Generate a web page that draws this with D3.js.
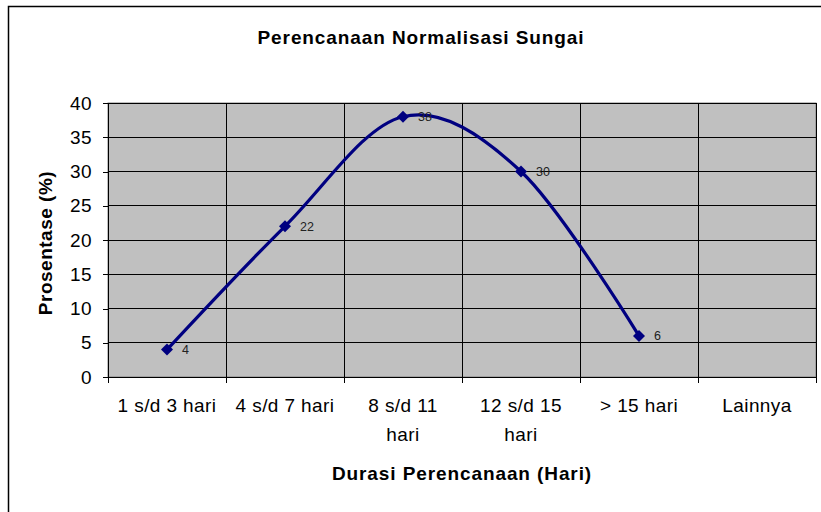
<!DOCTYPE html>
<html lang="en">
<head>
    <meta charset="utf-8">
    <title>Perencanaan Normalisasi Sungai</title>
    <script src="https://d3js.org/d3.v7.min.js"></script>
    <style type="text/css">
        body {
            margin: 0;
            background: white;
        }
        svg text {
            font-family: "Liberation Sans", Arial, sans-serif;
            fill: black;
        }
        .grid line {
            stroke: black;
            stroke-width: 1px;
            shape-rendering: crispEdges;
        }
        .axis path, .axis line {
            stroke: black;
            shape-rendering: crispEdges;
        }
        .axis text {
            font-size: 19px;
            letter-spacing: 0.4px;
        }
        .title {
            font-size: 19px;
            font-weight: bold;
            letter-spacing: 0.9px;
        }
        .line {
            fill: none;
            stroke: #000080;
            stroke-width: 3.2px;
        }
    </style>
</head>
<body>
    <script type="text/javascript">

        const w = 821; // Width
        const h = 512; // Height
        const plotLeft = 108, plotRight = 816, plotTop = 103, plotBottom = 377;

        // Data
        const categories = ["1 s/d 3 hari", "4 s/d 7 hari", "8 s/d 11 hari", "12 s/d 15 hari", "> 15 hari", "Lainnya"];
        const values = [4, 22, 38, 30, 6, null];
        const yTicks = [0, 5, 10, 15, 20, 25, 30, 35, 40];

        const data = categories.map((c, i) => ({ cat: c, value: values[i] }));

        // Scales
        const xScale = d3.scaleBand()
            .domain(categories)
            .range([plotLeft, plotRight]);

        const yScale = d3.scaleLinear()
            .domain([0, 40])
            .range([plotBottom, plotTop]);

        // SVG element
        const svg = d3.select("body")
            .append("svg")
            .attr("width", w)
            .attr("height", h);

        // chart border (runs off the right and bottom edge)
        svg.append("rect")
            .attr("x", 8.5)
            .attr("y", 6.5)
            .attr("width", 840)
            .attr("height", 540)
            .attr("fill", "white")
            .attr("stroke", "black")
            .attr("stroke-width", 1.5);

        // plot area
        svg.append("rect")
            .attr("x", plotLeft)
            .attr("y", plotTop)
            .attr("width", plotRight - plotLeft)
            .attr("height", plotBottom - plotTop)
            .attr("fill", "#c0c0c0")
            .attr("stroke", "#808080");

        // gridlines
        svg.append("g")
            .attr("class", "grid")
            .selectAll("line.h")
            .data(yTicks)
            .join("line")
            .attr("x1", plotLeft)
            .attr("x2", plotRight)
            .attr("y1", d => yScale(d))
            .attr("y2", d => yScale(d));

        const boundaries = categories.map(c => xScale(c)).concat([plotRight]);
        svg.append("g")
            .attr("class", "grid")
            .selectAll("line.v")
            .data(boundaries)
            .join("line")
            .attr("x1", d => d)
            .attr("x2", d => d)
            .attr("y1", plotTop)
            .attr("y2", plotBottom);

        // Axes
        const leftAxis = d3.axisLeft()
            .scale(yScale)
            .tickValues(yTicks)
            .tickSize(5)
            .tickPadding(11)
            .tickSizeOuter(0);

        svg.append("g")
            .attr("class", "axis")
            .attr("transform", "translate(" + plotLeft + ",0)")
            .call(leftAxis);

        const bottomAxis = d3.axisBottom()
            .scale(xScale)
            .tickSize(0)
            .tickPadding(22)
            .tickSizeOuter(0);

        const xAxisG = svg.append("g")
            .attr("class", "axis")
            .attr("transform", "translate(0," + plotBottom + ")")
            .call(bottomAxis);

        // tick marks sit on the category boundaries
        xAxisG.selectAll("line.bound")
            .data(boundaries)
            .join("line")
            .attr("class", "bound")
            .attr("x1", d => d)
            .attr("x2", d => d)
            .attr("y1", 0)
            .attr("y2", 6);

        // wrap long category labels onto two lines
        const lineGap = 29;
        xAxisG.selectAll(".tick text").each(function() {
            const t = d3.select(this);
            const words = t.text().split(" ");
            if (this.getComputedTextLength() <= 100) return;
            const first = words.slice(0, words.length - 1).join(" ");
            const last = words[words.length - 1];
            const y = +t.attr("y");
            t.text(null).attr("dy", null);
            t.append("tspan").attr("x", 0).attr("y", y).attr("dy", "0.71em").text(first);
            t.append("tspan").attr("x", 0).attr("y", y + lineGap).attr("dy", "0.71em").text(last);
        });

        // Line
        const line = d3.line()
            .defined(d => d.value !== null)
            .curve(d3.curveCardinal.tension(0))
            .x(d => xScale(d.cat) + xScale.bandwidth() / 2)
            .y(d => yScale(d.value));

        svg.append("path")
            .attr("class", "line")
            .attr("d", line(data));

        const pts = data.filter(d => d.value !== null);

        // diamond markers
        svg.append("g")
            .selectAll("path")
            .data(pts)
            .join("path")
            .attr("d", d3.symbol(d3.symbolSquare, 72))
            .attr("transform", d => "translate(" + (xScale(d.cat) + xScale.bandwidth() / 2) + "," + yScale(d.value) + ") rotate(45)")
            .attr("fill", "#000080");

        // value labels
        svg.append("g")
            .selectAll("text")
            .data(pts)
            .join("text")
            .attr("x", d => xScale(d.cat) + xScale.bandwidth() / 2 + 15)
            .attr("y", d => yScale(d.value))
            .attr("dy", "0.36em")
            .attr("font-size", "12.5px")
            .style("fill", "#222")
            .text(d => d.value);

        //Chart Labels
        svg.append("text")
            .attr("class", "title")
            .attr("x", 421)
            .attr("y", 37)
            .attr("dy", "0.36em")
            .attr("text-anchor", "middle")
            .text("Perencanaan Normalisasi Sungai");

        svg.append("text")
            .attr("class", "title")
            .attr("x", (plotLeft + plotRight) / 2)
            .attr("y", 473)
            .attr("dy", "0.36em")
            .attr("text-anchor", "middle")
            .text("Durasi Perencanaan (Hari)");

        svg.append("text")
            .attr("class", "title")
            .attr("transform", "translate(45," + ((plotTop + plotBottom) / 2 + 3) + ") rotate(-90)")
            .attr("dy", "0.36em")
            .attr("text-anchor", "middle")
            .style("letter-spacing", "0.5px")
            .text("Prosentase (%)");

    </script>
</body>
</html>
